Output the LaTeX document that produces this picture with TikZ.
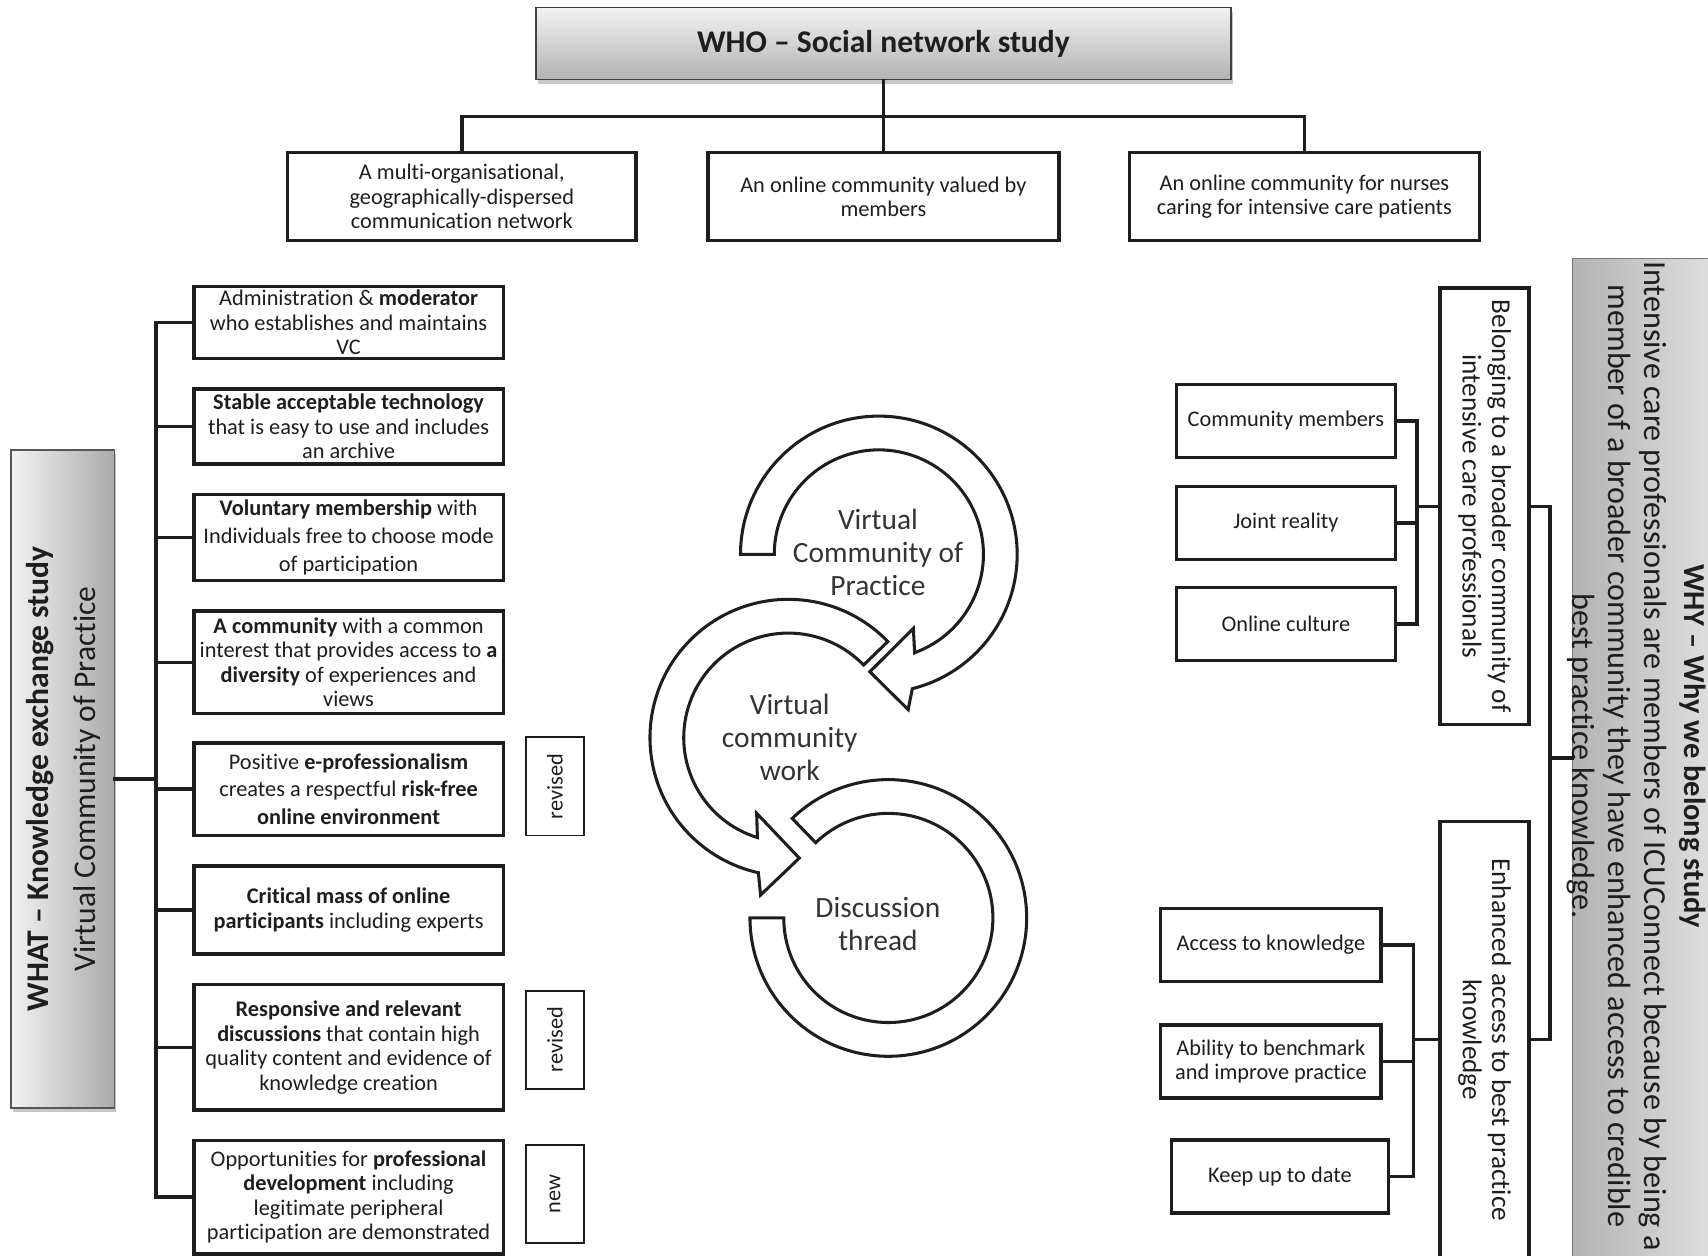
\documentclass[tikz,border=0pt]{standalone}
\usepackage{fontspec}
\setmainfont{Carlito}[Ligatures={TeX,NoCommon}]
\usetikzlibrary{shadows}
\newcommand\fsz[2]{\fontsize{#1}{#2}\selectfont}
\definecolor{ink}{HTML}{1E1E1E}
\begin{document}
\begin{tikzpicture}[x=1pt,y=1pt,
  every node/.style={text=ink},
  conn/.style={draw=ink, line width=3.2pt, line cap=rect},
  soft/.style={drop shadow={shadow xshift=1.5pt, shadow yshift=-4pt, fill=black, opacity=0.22}},
  tbox/.style={draw=ink, line width=3.2pt, fill=white, align=center, inner sep=1pt,
               minimum height=81pt, font=\fsz{20.5}{22.5}},
  lbox/.style={draw=ink, line width=3.2pt, fill=white, align=center, inner sep=1pt,
               minimum width=284pt, font=\fsz{20.5}{22.5}},
  tagbox/.style={draw=ink, line width=1.8pt, fill=white, rotate=90, inner sep=1pt,
               minimum width=90pt, minimum height=53pt, font=\fsz{20.5}{22.5}},
  rbox/.style={draw=ink, line width=3.2pt, fill=white, align=center, inner sep=1pt,
               minimum height=67pt, font=\fsz{20.5}{22.5}},
  vbox/.style={draw=ink, line width=3.2pt, fill=white, align=center, inner sep=1pt,
               rotate=-90, minimum width=401pt, minimum height=81.7pt, font=\fsz{25}{27}},
  band/.style={draw=ink, line width=2.8pt, fill=white, line join=miter},
  ctext/.style={align=center, font=\fsz{27}{30}, text=black!80}
]
\useasboundingbox (0,0) rectangle (1568,-1153);
\clip (0,0) rectangle (1568,-1153);

% ---------------- WHO: social network study ----------------
\node[draw=ink!85, line width=1.6pt, top color=black!5, bottom color=black!30,
      minimum width=638pt, minimum height=66pt, font=\fsz{29}{34}\bfseries, soft]
      (who) at (811,-40) {WHO – Social network study};

\node[tbox, minimum width=320pt] (t1) at (424,-180.5)
  {A multi-organisational,\\geographically-dispersed\\communication network};
\node[tbox, minimum width=322pt] (t2) at (811,-180.5)
  {An online community valued by\\members};
\node[tbox, minimum width=321pt] (t3) at (1197.5,-180.5)
  {An online community for nurses\\caring for intensive care patients};

\coordinate (tbar) at (811,-107);
\draw[conn] (who.south) -- (t2.north);
\draw[conn] (t1.north) |- (tbar) -| (t3.north);

% ---------------- WHAT: knowledge exchange study ----------------
\node[draw=ink!75, line width=1.5pt, left color=black!5, right color=black!33,
      minimum width=95pt, minimum height=604pt, soft] (what) at (57.5,-715) {};
\node[rotate=90, align=center, font=\fsz{29}{43}] (whattext) at (58.5,-715)
  {\textbf{WHAT – Knowledge exchange study}\\Virtual Community of Practice};

\node[lbox, minimum height=66pt] (w1) at (320,-296)
  {Administration \& \textbf{moderator}\\who establishes and maintains\\VC};
\node[lbox, minimum height=69pt] (w2) at (320,-391.5)
  {\textbf{Stable acceptable technology}\\that is easy to use and includes\\an archive};
\node[lbox, minimum height=79pt, font=\fsz{20.5}{25.5}] (w3) at (320,-493.5)
  {\textbf{Voluntary membership} with\\Individuals free to choose mode\\of participation};
\node[lbox, minimum height=94pt] (w4) at (320,-608)
  {\textbf{A community} with a common\\interest that provides access to \textbf{a}\\\textbf{diversity} of experiences and\\views};
\node[lbox, minimum height=85pt, font=\fsz{20.5}{25}] (w5) at (320,-724.5)
  {Positive \textbf{e-professionalism}\\creates a respectful \textbf{risk-free}\\\textbf{online environment}};
\node[lbox, minimum height=81pt] (w6) at (320,-835.5)
  {\textbf{Critical mass of online}\\\textbf{participants} including experts};
\node[lbox, minimum height=115pt] (w7) at (320,-961.5)
  {\textbf{Responsive and relevant}\\\textbf{discussions} that contain high\\quality content and evidence of\\knowledge creation};
\node[lbox, minimum height=104pt] (w8) at (320,-1099)
  {Opportunities for \textbf{professional}\\\textbf{development} including\\legitimate peripheral\\participation are demonstrated};

\node[tagbox] (g1) at (509.5,-722) {revised};
\node[tagbox] (g2) at (509.5,-954.5) {revised};
\node[tagbox] (g3) at (509.5,-1096) {new};

\coordinate (lx) at (143,0);
\draw[conn] (what.east) -- (what.east -| lx);
\draw[conn] (w1.west -| lx) -- (w8.west -| lx);
\foreach \n in {w1,w2,w3,w4,w5,w6,w7,w8}
  \draw[conn] (\n.west) -- (\n.west -| lx);

% ---------------- central cycle of curved arrows ----------------
\begin{scope}[shift={(815.5,-842.7)}]
  \draw[band] (134:127) arc[start angle=134, end angle=-180, radius=127]
    -- (-180:96) arc[start angle=-180, end angle=134, radius=96] -- cycle;
\end{scope}
\begin{scope}[shift={(723.7,-677.2)}]
  \draw[band] (44:127) arc[start angle=44, end angle=257.5, radius=127]
    -- (260:146.7) -- (275.2:111) -- (247.3:75.3) -- (252.8:96)
    arc[start angle=252.8, end angle=44, radius=96] -- cycle;
\end{scope}
\begin{scope}[shift={(806.8,-509)}]
  \draw[band] (180:127) arc[start angle=180, end angle=-76, radius=127]
    -- (-79.3:145) -- (-94.4:108) -- (-65:75) -- (-70:96)
    arc[start angle=-70, end angle=180, radius=96] -- cycle;
\end{scope}
\node[ctext] (c1) at (806,-507) {Virtual\\Community of\\Practice};
\node[ctext] (c2) at (725,-677) {Virtual\\community\\work};
\node[ctext] (c3) at (806,-848) {Discussion\\thread};

% ---------------- WHY: why we belong study ----------------
\node[draw=ink!60, line width=1.2pt, left color=black!30, right color=black!7,
      minimum width=170pt, minimum height=918pt, anchor=west] (why) at (1443,-696) {};
\node[rotate=-90, align=center, font=\fsz{29.5}{33}] (whybody) at (1484,-694)
  {Intensive care professionals are members of ICUConnect because by being a\\member of a broader community they have enhanced access to credible\\best practice knowledge.};
\node[rotate=-90, anchor=base, font=\fsz{28}{33}\bfseries] (whytitle) at (1546,-685)
  {WHY – Why we belong study};

\node[vbox] (bel) at (1362.9,-464.8)
  {Belonging to a broader community of\\intensive care professionals};
\node[rbox, minimum width=201pt] (b1) at (1180.5,-386.5) {Community members};
\node[rbox, minimum width=201pt] (b2) at (1180.5,-480) {Joint reality};
\node[rbox, minimum width=201pt] (b3) at (1180.5,-573) {Online culture};

\coordinate (rx1) at (1301,0);
\foreach \n in {b1,b2,b3}
  \draw[conn] (\n.east) -- (\n.east -| rx1);
\draw[conn] (b1.east -| rx1) -- (b3.east -| rx1);
\draw[conn] (bel.south) -- (bel.south -| rx1);

\node[vbox] (enh) at (1362.9,-954.5)
  {Enhanced access to best practice\\knowledge};
\node[rbox, minimum width=202.5pt] (a1) at (1166.75,-867.5) {Access to knowledge};
\node[rbox, minimum width=202.5pt] (a2) at (1166.75,-974.5) {Ability to benchmark\\and improve practice};
\node[rbox, minimum width=199pt] (a3) at (1175,-1080) {Keep up to date};

\coordinate (rx2) at (1297.4,0);
\foreach \n in {a1,a2,a3}
  \draw[conn] (\n.east) -- (\n.east -| rx2);
\draw[conn] (a1.east -| rx2) -- (a3.east -| rx2);
\draw[conn] (enh.south) -- (enh.south -| rx2);

\coordinate (wx) at (1423,0);
\draw[conn] (bel.north) -- (bel.north -| wx) -- (enh.north -| wx) -- (enh.north);
\draw[conn] (why.west -| wx) -- (why.west);
\end{tikzpicture}
\end{document}
